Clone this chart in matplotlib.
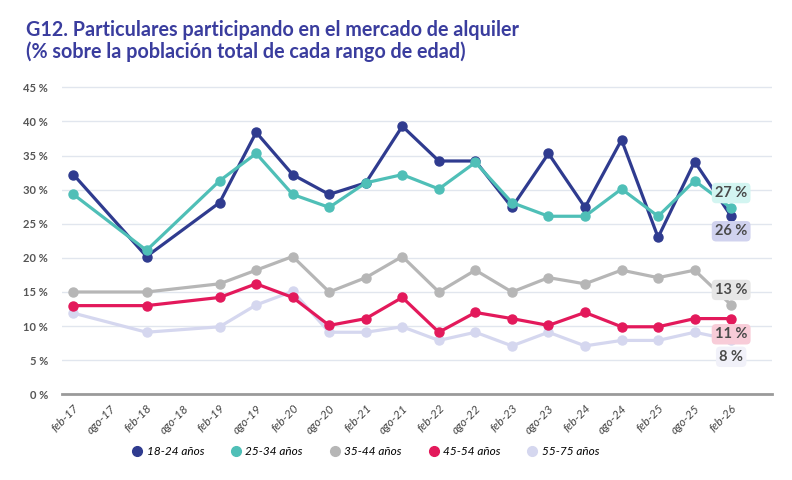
import numpy as np
import matplotlib.pyplot as plt
import matplotlib.transforms as mtransforms
from matplotlib.lines import Line2D

# datos (semestres feb/ago)
periodos = ['feb-17', 'ago-17', 'feb-18', 'ago-18', 'feb-19', 'ago-19', 'feb-20', 'ago-20',
            'feb-21', 'ago-21', 'feb-22', 'ago-22', 'feb-23', 'ago-23', 'feb-24', 'ago-24',
            'feb-25', 'ago-25', 'feb-26']
# indices de los periodos con dato (no hay ago-17 ni ago-18)
idx_datos = [0, 2, 4, 5, 6, 7, 8, 9, 10, 11, 12, 13, 14, 15, 16, 17, 18]

s18_24 = [32.2, 20.2, 28.1, 38.4, 32.2, 29.3, 31.0, 39.3, 34.2, 34.2, 27.4, 35.3, 27.4, 37.3, 23.0, 34.1, 26.1]
s25_34 = [29.3, 21.1, 31.3, 35.3, 29.3, 27.4, 31.0, 32.2, 30.1, 34.0, 28.1, 26.1, 26.1, 30.1, 26.1, 31.3, 27.3]
s35_44 = [15.0, 15.0, 16.2, 18.2, 20.2, 15.0, 17.1, 20.2, 15.0, 18.2, 15.0, 17.1, 16.2, 18.2, 17.1, 18.2, 13.1]
s45_54 = [13.0, 13.0, 14.2, 16.2, 14.2, 10.1, 11.1, 14.2, 9.1, 12.0, 11.1, 10.1, 12.0, 9.9, 9.9, 11.1, 11.1]
s55_75 = [11.9, 9.1, 9.9, 13.1, 15.1, 9.1, 9.1, 9.9, 7.9, 9.1, 7.1, 9.1, 7.1, 7.9, 7.9, 9.1, 8.0]

series = [('18-24 años', s18_24, '#2f3b8f'),
          ('25-34 años', s25_34, '#4fbfb7'),
          ('35-44 años', s35_44, '#b6b6b6'),
          ('45-54 años', s45_54, '#e3195b'),
          ('55-75 años', s55_75, '#d5d7ef')]

# etiquetas finales: texto, altura, color de fondo
etiquetas = [('27 %', 29.5, '#d3f5f1'),
             ('26 %', 23.9, '#d0d2ee'),
             ('13 %', 15.3, '#e6e6e6'),
             ('11 %', 8.8, '#f8ccd8'),
             ('8 %', 5.5, '#f1f1f9')]

titulo = 'G12. Particulares participando en el mercado de alquiler\n(% sobre la población total de cada rango de edad)'

# %%
fig = plt.figure(figsize=(7.92, 4.8), dpi=100)
ax = fig.add_axes([0.078, 0.1785, 0.8964, 0.6467])

orden = [4, 3, 2, 0, 1]
for i in orden:
    nombre, vals, col = series[i]
    ax.plot(idx_datos, vals, '-o', color=col, lw=2.3, ms=6.5, label=nombre, zorder=3 + orden.index(i))

for txt, yy, fondo in etiquetas:
    ax.text(18, yy, txt, ha='center', va='center', fontsize=10.5, fontweight='bold',
            color='#4a4a4a', family='Lato', zorder=10,
            bbox=dict(boxstyle='round,pad=0.22,rounding_size=0.3', fc=fondo, ec='none'))

ax.set_xlim(-0.32, 19.11)
ax.set_ylim(0, 45.5)
ax.set_yticks(np.arange(0, 46, 5))
ax.set_yticklabels([f'{v} %' for v in range(0, 46, 5)], fontsize=8, fontweight='bold',
                   color='#555555', family='Lato')
ax.set_xticks(range(len(periodos)))
ax.set_xticklabels(periodos, rotation=45, ha='right', va='top', rotation_mode='anchor',
                   fontsize=8.5, style='italic', color='#444444', family='Lato')
# corro un poco las etiquetas a la derecha como en el original
desplaza = mtransforms.ScaledTranslation(7 / 100, 0, fig.dpi_scale_trans)
for lab in ax.get_xticklabels():
    lab.set_transform(lab.get_transform() + desplaza)
ax.tick_params(axis='both', length=0)
ax.tick_params(axis='y', pad=10)
ax.tick_params(axis='x', pad=6)
ax.yaxis.grid(True, color='#e1e6ee', lw=1)
ax.set_axisbelow(True)
for lado in ['top', 'right', 'left']:
    ax.spines[lado].set_visible(False)
ax.spines['bottom'].set_color('#9a9a9a')
ax.spines['bottom'].set_linewidth(2)

fig.text(0.033, 0.915, titulo, fontsize=14.2, fontweight='bold', color='#3a3d9e',
         family='Lato', va='center', linespacing=1.1)

handles = [Line2D([], [], ls='none', marker='o', ms=7, color=c) for _, _, c in series]
fig.legend(handles, [n for n, _, _ in series], loc='center', bbox_to_anchor=(0.462, 0.06),
           ncol=5, frameon=False, handlelength=0.8, handletextpad=0.4, columnspacing=2.3,
           prop={'family': 'Lato', 'style': 'italic', 'size': 8.5})

fig.savefig('out.png', dpi=100)
